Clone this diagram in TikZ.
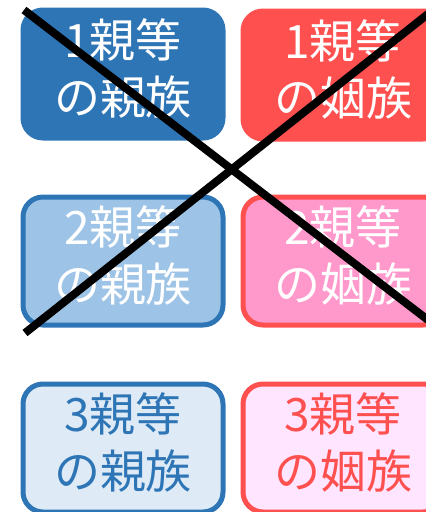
\documentclass[tikz,border=0pt]{standalone}
\usepackage{fontspec}
\newfontfamily\jp{Noto Sans CJK JP}
\definecolor{blueA}{HTML}{2E75B6}
\definecolor{blueB}{HTML}{9DC3E6}
\definecolor{blueC}{HTML}{DEEBF7}
\definecolor{redA}{HTML}{FF5050}
\definecolor{redB}{HTML}{FF99CC}
\definecolor{redC}{HTML}{FFE5FF}
\tikzset{
  kbox/.style={rounded corners=20pt, minimum width=200pt, minimum height=128pt, line width=5pt, inner sep=0pt},
  ktext/.style={font=\jp\fontsize{46}{57}\selectfont, align=center, inner sep=0pt},
  cross/.style={line width=8pt, black}
}
\begin{document}
\begin{tikzpicture}[x=1pt,y=-1pt]
\useasboundingbox (0,0) rectangle (426,512);
\clip (0,0) rectangle (426,512);
% top row (filled, no border)
\node[kbox, fill=blueA, draw=blueA] (b1) at (123,74) {};
\node[kbox, fill=redA, draw=redA] (b2) at (343,75) {};
% middle row
\node[kbox, fill=blueB, draw=blueA] (b3) at (123,261) {};
\node[kbox, fill=redB, draw=redA] (b4) at (343,261) {};
% bottom row
\node[kbox, fill=blueC, draw=blueA] (b5) at (123,448) {};
\node[kbox, fill=redC, draw=redA] (b6) at (343,448) {};
% texts
\node[ktext, text=white] (t1) at ([yshift=6pt]b1.center) {1親等\\の親族};
\node[ktext, text=white] (t2) at ([yshift=6pt]b2.center) {1親等\\の姻族};
\node[ktext, text=white] (t3) at ([yshift=6pt]b3.center) {2親等\\の親族};
\node[ktext, text=white] (t4) at ([yshift=6pt]b4.center) {2親等\\の姻族};
\node[ktext, text=blueA] (t5) at ([yshift=6pt]b5.center) {3親等\\の親族};
\node[ktext, text=redA] (t6) at ([yshift=6pt]b6.center) {3親等\\の姻族};
% big cross
\coordinate (c1) at (24,10);
\coordinate (c2) at (428,320);
\coordinate (c3) at (25,333);
\coordinate (c4) at (428,14);
\draw[cross] (c1) -- (c2);
\draw[cross] (c3) -- (c4);
\end{tikzpicture}
\end{document}
